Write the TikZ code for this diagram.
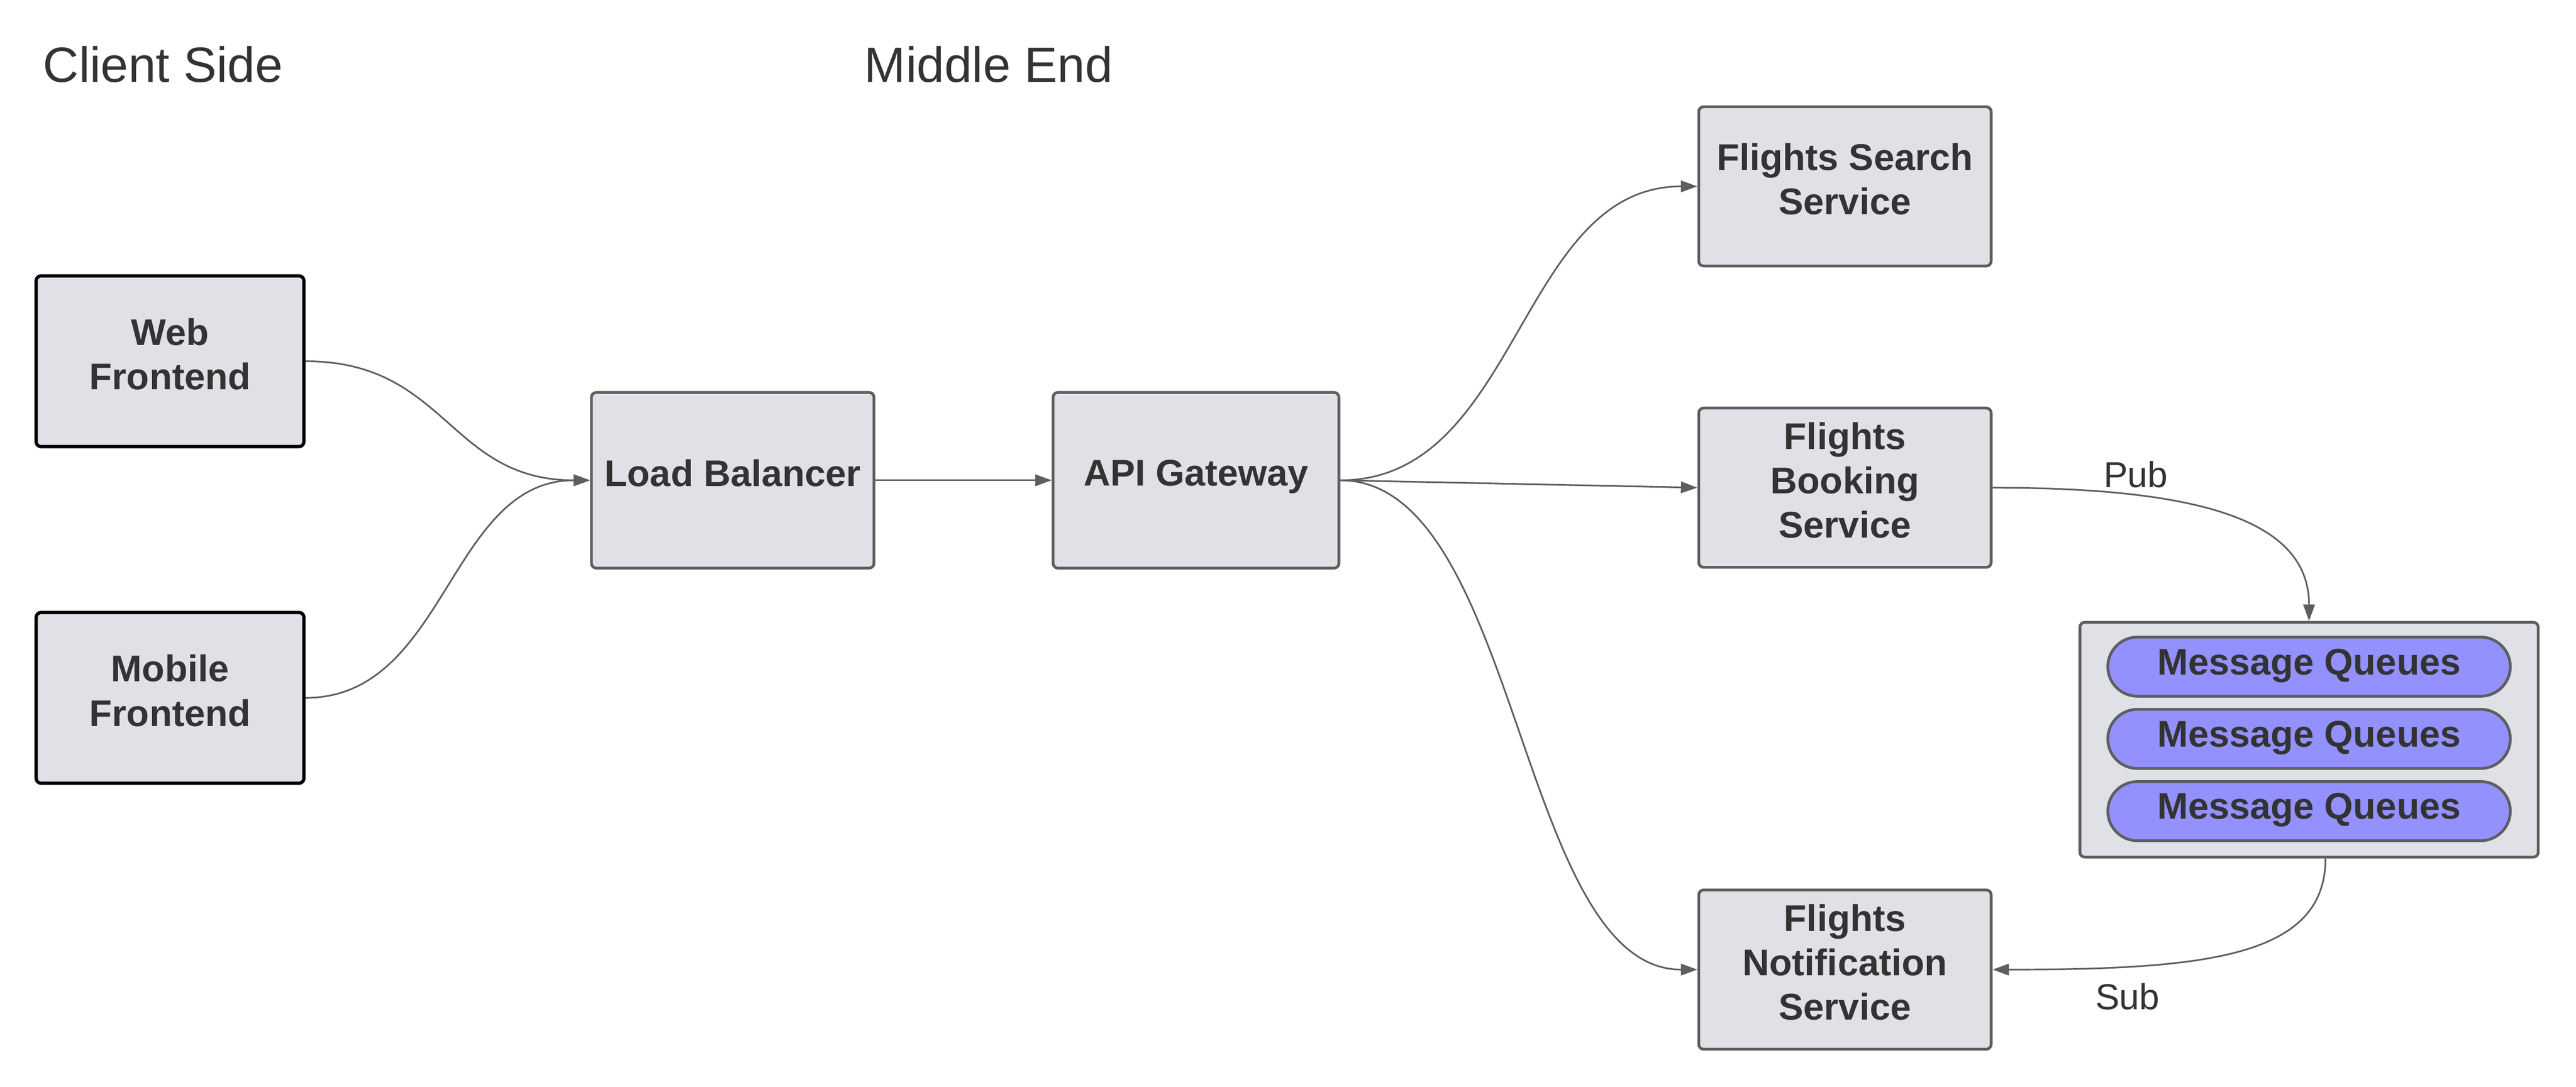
\documentclass[tikz,border=0pt]{standalone}
\usepackage{fontspec}
\setmainfont{Liberation Sans}
\usetikzlibrary{arrows.meta}

\definecolor{boxfill}{HTML}{DFE1E6}
\definecolor{boxline}{HTML}{5E5E5E}
\definecolor{txt}{HTML}{333333}
\definecolor{queuefill}{HTML}{9391FE}

\tikzset{
  box/.style={draw=boxline, fill=boxfill, line width=1.7pt, rounded corners=3pt,
    inner sep=0pt, align=center, text=txt, text depth=9pt,
    font=\fontsize{22.6}{27}\selectfont\bfseries},
  client/.style={box, draw=black, line width=2pt, minimum width=163, minimum height=104},
  svc/.style={box, minimum width=178, minimum height=97},
  queue/.style={box, fill=queuefill, rounded corners=18pt, text depth=6pt,
    minimum width=245, minimum height=36},
  title/.style={anchor=base west, inner sep=0pt, text=txt, font=\fontsize{30.2}{36}\selectfont},
  lbl/.style={inner sep=0pt, text=txt, font=\fontsize{22}{26}\selectfont},
  conn/.style={draw=boxline, line width=1pt, -{Triangle[length=10pt,width=7pt]}},
}

\begin{document}
\begin{tikzpicture}[x=1pt, y=-1pt]

  \useasboundingbox (0,0) rectangle (1568,662);

  % Define nodes
  \node[title] (cside) at (26,50)  {Client Side};
  \node[title] (mend)  at (526,50) {Middle End};

  \node[client] (web)    at (103.5,220) {Web\\Frontend};
  \node[client] (mobile) at (103.5,425) {Mobile\\Frontend};

  \node[box, minimum width=172, minimum height=107] (lb)  at (446,292.5) {Load Balancer};
  \node[box, minimum width=174, minimum height=107] (api) at (728,292.5) {API Gateway};

  \node[svc] (search)  at (1123,113.5) {Flights Search\\Service};
  \node[svc] (booking) at (1123,297)   {Flights\\Booking\\Service};
  \node[svc] (notif)   at (1123,590.5) {Flights\\Notification\\Service};

  \node[box, minimum width=279, minimum height=143] (mq) at (1405.5,450.5) {};
  \foreach \i/\y in {1/406,2/450,3/494}
    \node[queue] (q_\i) at (1405.5,\y) {Message Queues};

  \node[lbl] (pub) at (1300,289) {Pub};
  \node[lbl] (sub) at (1295,607) {Sub};

  % Connect the nodes
  \draw[conn] (web.east) .. controls +(86,0) and +(-86,0) .. (lb.west);
  \draw[conn] (mobile.east) .. controls +(86,0) and +(-86,0) .. (lb.west);
  \draw[conn] (lb.east) -- (api.west);
  \draw[conn] (api.east) .. controls +(109,0) and +(-109,0) .. (search.west);
  \draw[conn] (api.east) -- (booking.west);
  \draw[conn] (api.east) .. controls +(109,0) and +(-109,0) .. (notif.west);
  \draw[conn] (booking.east) .. controls +(130,0) and +(0,-60) .. (mq.north);
  \draw[conn] ([xshift=10pt]mq.south) .. controls +(0,60) and +(130,0) .. (notif.east);

\end{tikzpicture}
\end{document}
